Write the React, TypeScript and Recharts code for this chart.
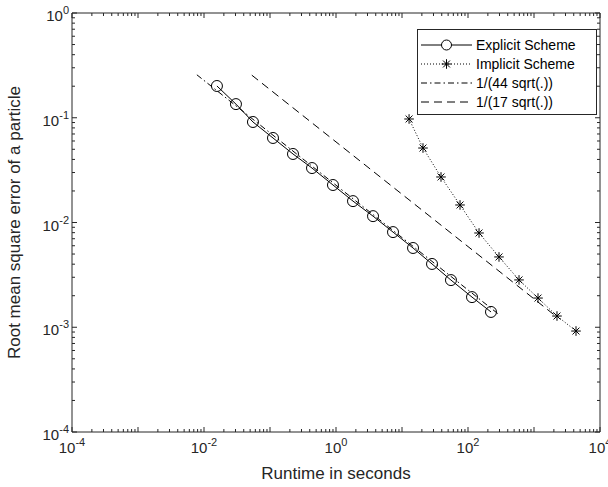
import React from 'react'
import { ScatterChart, Scatter, XAxis, YAxis, ReferenceLine, Legend } from 'recharts'

document.body.style.margin = '0'

// values
const explicitRuntime = [0.0157, 0.0305, 0.0552, 0.111, 0.223, 0.433, 0.9, 1.81, 3.64, 7.31, 14.7, 28.5, 55.2, 115, 223]
const explicitError = [0.201, 0.135, 0.0911, 0.0641, 0.0451, 0.0331, 0.0228, 0.016, 0.0115, 0.0081, 0.00571, 0.00402, 0.00282, 0.00194, 0.0014]
const implicitRuntime = [12.8, 20.8, 39.0, 75.7, 147, 295, 593, 1150, 2230, 4330]
const implicitError = [0.0973, 0.0514, 0.0272, 0.0147, 0.00794, 0.00469, 0.00283, 0.0019, 0.00128, 0.00092]
const fit44Runtime = [0.0078, 305]
const fit44Error = [0.257, 0.0013]
const fit17Runtime = [0.053, 2000]
const fit17Error = [0.255, 0.00132]

const xDecades = [-4, -3, -2, -1, 0, 1, 2, 3, 4]
const yDecades = [-4, -3, -2, -1, 0]
const minorSteps = [2, 3, 4, 5, 6, 7, 8, 9]

const legendNames = ['Explicit Scheme', 'Implicit Scheme', '1/(44 sqrt(.))', '1/(17 sqrt(.))']

const AXIS = '#262626'
const FONT = '"Liberation Sans", Arial, Helvetica, sans-serif'
const PW = 528
const PH = 419

const buildTicks = (decades: number[]) => {
  const out: number[] = []
  decades.forEach((d, i) => {
    out.push(Math.pow(10, d))
    if (i < decades.length - 1) minorSteps.forEach((m) => out.push(m * Math.pow(10, d)))
  })
  return out
}
const xTicks = buildTicks(xDecades)
const yTicks = buildTicks(yDecades)

const toPoints = (xs: number[], ys: number[]) => xs.map((x, i) => ({ x, y: ys[i] }))

const decadeOf = (v: number) => {
  const l = Math.log10(v)
  const e = Math.round(l)
  return { e, major: Math.abs(l - e) < 1e-6 }
}

function XTick(props: any) {
  const { x, y, payload } = props
  const { e, major } = decadeOf(payload.value)
  const len = major ? 5 : 3
  return (
    <g>
      <line x1={x} y1={y} x2={x} y2={y - len} stroke={AXIS} />
      <line x1={x} y1={y - PH} x2={x} y2={y - PH + len} stroke={AXIS} />
      {major && e % 2 === 0 && (
        <text x={x} y={y + 21} textAnchor="middle" fill={AXIS} fontSize={15} fontFamily={FONT}>
          <tspan>10</tspan>
          <tspan dy={-7} fontSize={11}>{e}</tspan>
        </text>
      )}
    </g>
  )
}

function YTick(props: any) {
  const { x, y, payload } = props
  const { e, major } = decadeOf(payload.value)
  const len = major ? 5 : 3
  return (
    <g>
      <line x1={x} y1={y} x2={x + len} y2={y} stroke={AXIS} />
      <line x1={x + PW} y1={y} x2={x + PW - len} y2={y} stroke={AXIS} />
      {major && (
        <text x={x - 3} y={y + 8} textAnchor="end" fill={AXIS} fontSize={15} fontFamily={FONT}>
          <tspan>10</tspan>
          <tspan dy={-7} fontSize={11}>{e}</tspan>
        </text>
      )}
    </g>
  )
}

const Circle = (props: any) => (
  <circle cx={props.cx} cy={props.cy} r={5.5} fill="none" stroke="#000" strokeWidth={1} />
)

const Star = ({ cx, cy }: { cx: number; cy: number }) => {
  const r = 4.8
  const d = r * 0.72
  return (
    <g stroke="#000" strokeWidth={1}>
      <line x1={cx - r} y1={cy} x2={cx + r} y2={cy} />
      <line x1={cx} y1={cy - r} x2={cx} y2={cy + r} />
      <line x1={cx - d} y1={cy - d} x2={cx + d} y2={cy + d} />
      <line x1={cx - d} y1={cy + d} x2={cx + d} y2={cy - d} />
    </g>
  )
}

const Nothing = () => <g />

function LegendBox() {
  const styles = [
    { dash: undefined, marker: 'o' },
    { dash: '1 2', marker: '*' },
    { dash: '6 3 1.5 3', marker: '' },
    { dash: '8 5', marker: '' },
  ]
  return (
    <svg width={180} height={86} style={{ display: 'block' }}>
      <rect x={0.5} y={0.5} width={179} height={85} fill="#fff" stroke={AXIS} />
      {legendNames.map((name, i) => {
        const cy = 16 + i * 19
        const s = styles[i]
        return (
          <g key={name}>
            <line x1={4} y1={cy} x2={55} y2={cy} stroke="#000" strokeDasharray={s.dash} />
            {s.marker === 'o' && <circle cx={29.5} cy={cy} r={5} fill="#fff" stroke="#000" />}
            {s.marker === '*' && <Star cx={29.5} cy={cy} />}
            <text x={59} y={cy + 5} fontSize={14} fontFamily={FONT} fill="#000">
              {name}
            </text>
          </g>
        )
      })}
    </svg>
  )
}

export default function App() {
  return (
    <ScatterChart
      width={608}
      height={487}
      margin={{ top: 13, right: 8, left: 0, bottom: 0 }}
      style={{ fontFamily: FONT, background: '#fff' }}
    >
      <XAxis
        dataKey="x"
        type="number"
        scale="log"
        domain={[1e-4, 1e4]}
        allowDataOverflow
        ticks={xTicks}
        interval={0}
        tick={<XTick />}
        tickSize={0}
        tickMargin={0}
        tickLine={false}
        axisLine={{ stroke: AXIS }}
        height={55}
        label={{ value: 'Runtime in seconds', position: 'insideBottom', offset: 8, fill: AXIS, fontSize: 17 }}
      />
      <YAxis
        dataKey="y"
        type="number"
        scale="log"
        domain={[1e-4, 1]}
        allowDataOverflow
        ticks={yTicks}
        interval={0}
        tick={<YTick />}
        tickSize={0}
        tickMargin={0}
        tickLine={false}
        axisLine={{ stroke: AXIS }}
        width={72}
        label={{
          value: 'Root mean square error of a particle',
          angle: -90,
          position: 'insideLeft',
          offset: 14,
          fill: AXIS,
          fontSize: 17,
          style: { textAnchor: 'middle' },
        }}
      />
      <ReferenceLine y={1} stroke={AXIS} />
      <ReferenceLine x={1e4} stroke={AXIS} />
      <Scatter
        data={toPoints(fit44Runtime, fit44Error)}
        line={{ stroke: '#000', strokeWidth: 1, strokeDasharray: '6 3 1.5 3' }}
        shape={<Nothing />}
        isAnimationActive={false}
      />
      <Scatter
        data={toPoints(fit17Runtime, fit17Error)}
        line={{ stroke: '#000', strokeWidth: 1, strokeDasharray: '8 5' }}
        shape={<Nothing />}
        isAnimationActive={false}
      />
      <Scatter
        data={toPoints(explicitRuntime, explicitError)}
        line={{ stroke: '#000', strokeWidth: 1 }}
        shape={<Circle />}
        isAnimationActive={false}
      />
      <Scatter
        data={toPoints(implicitRuntime, implicitError)}
        line={{ stroke: '#000', strokeWidth: 1, strokeDasharray: '1 2' }}
        shape={(p: any) => <Star cx={p.cx} cy={p.cy} />}
        isAnimationActive={false}
      />
      <Legend
        layout="vertical"
        align="center"
        verticalAlign="middle"
        content={() => <LegendBox />}
        wrapperStyle={{ left: 417, top: 29, width: 180, height: 86 }}
      />
    </ScatterChart>
  )
}
